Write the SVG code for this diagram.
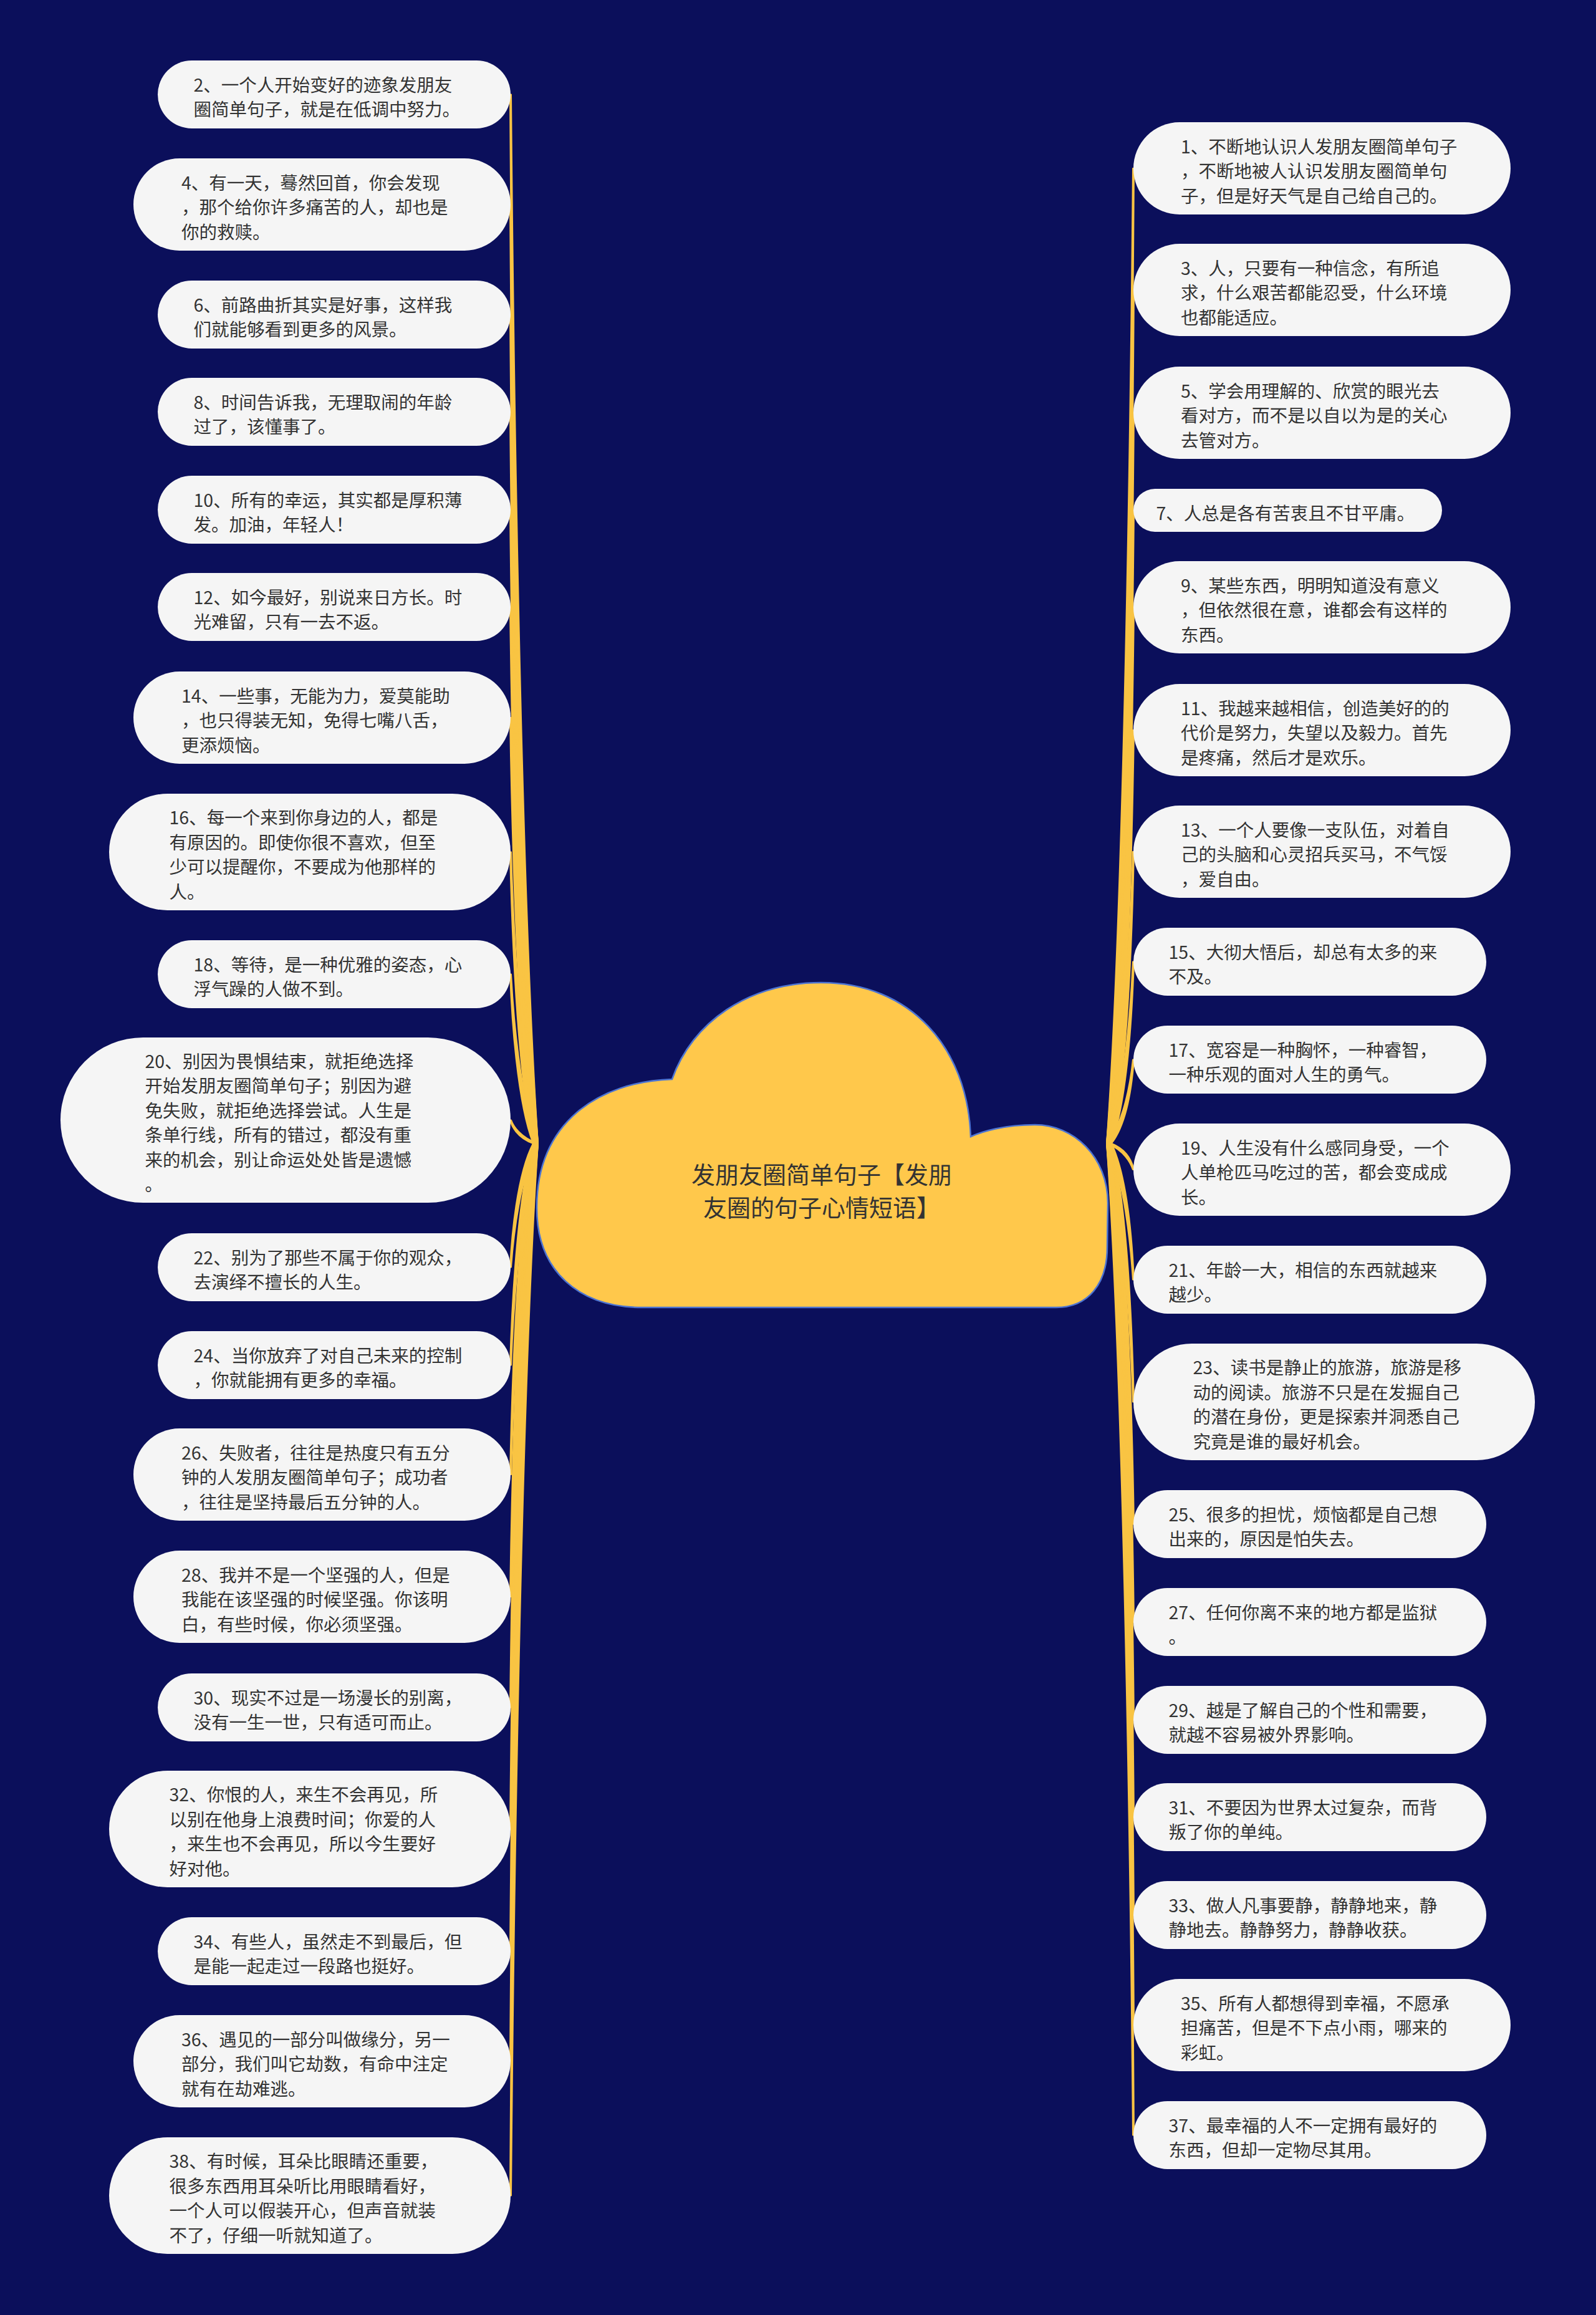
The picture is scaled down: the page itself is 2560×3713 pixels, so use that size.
<svg xmlns="http://www.w3.org/2000/svg" width="2560" height="3713" viewBox="0 0 2560 3713">
<style>
.bg{fill:#0b0f5b}
.c{fill:#f9c443;stroke:#f9c443;stroke-width:2;stroke-linejoin:round}
.n{fill:#f5f5f5}
.t{font-family:"Noto Sans CJK SC","Noto Sans",sans-serif;font-size:28.5px;fill:#333333;dominant-baseline:central}
.ct{font-family:"Noto Sans CJK SC","Noto Sans",sans-serif;font-size:38px;fill:#333333;dominant-baseline:central;text-anchor:middle}
</style>
<rect class="bg" x="0" y="0" width="2560" height="3713"/>
<g id="connectors">
<path class="c" d="M855 1834C829 1413.4 820.5 572.1 818 151.5L820 151.5C823.5 572.1 835 1413.4 863 1834Z"/>
<path class="c" d="M855 1834C829 1457.5 820.5 704.5 818 328L820 328C823.5 704.5 835 1457.5 863 1834Z"/>
<path class="c" d="M855 1834C829 1501.6 820.5 836.9 818 504.5L820 504.5C823.5 836.9 835 1501.6 863 1834Z"/>
<path class="c" d="M855 1834C829 1540.6 820.5 953.9 818 660.5L820 660.5C823.5 953.9 835 1540.6 863 1834Z"/>
<path class="c" d="M855 1834C829 1579.9 820.5 1071.6 818 817.5L820 817.5C823.5 1071.6 835 1579.9 863 1834Z"/>
<path class="c" d="M855 1834C829 1618.9 820.5 1188.6 818 973.5L820 973.5C823.5 1188.6 835 1618.9 863 1834Z"/>
<path class="c" d="M855 1834C829 1663.25 820.5 1321.75 818 1151L820 1151C823.5 1321.75 835 1663.25 863 1834Z"/>
<path class="c" d="M855 1834C829 1717.1 820.5 1483.4 818 1366.5L820 1366.5C823.5 1483.4 835 1717.1 863 1834Z"/>
<path class="c" d="M855 1834C829 1766.1 820.5 1630.4 818 1562.5L820 1562.5C823.5 1630.4 835 1766.1 863 1834Z"/>
<path class="c" d="M855 1834C829 1824.6 820.5 1805.9 818 1796.5L820 1796.5C823.5 1805.9 835 1824.6 863 1834Z"/>
<path class="c" d="M855 1834C829 1883.6 820.5 1982.9 818 2032.5L820 2032.5C823.5 1982.9 835 1883.6 863 1834Z"/>
<path class="c" d="M855 1834C829 1922.9 820.5 2100.6 818 2189.5L820 2189.5C823.5 2100.6 835 1922.9 863 1834Z"/>
<path class="c" d="M855 1834C829 1966.75 820.5 2232.25 818 2365L820 2365C823.5 2232.25 835 1966.75 863 1834Z"/>
<path class="c" d="M855 1834C829 2015.75 820.5 2379.25 818 2561L820 2561C823.5 2379.25 835 2015.75 863 1834Z"/>
<path class="c" d="M855 1834C829 2060.1 820.5 2512.4 818 2738.5L820 2738.5C823.5 2512.4 835 2060.1 863 1834Z"/>
<path class="c" d="M855 1834C829 2108.9 820.5 2658.6 818 2933.5L820 2933.5C823.5 2658.6 835 2108.9 863 1834Z"/>
<path class="c" d="M855 1834C829 2157.9 820.5 2805.6 818 3129.5L820 3129.5C823.5 2805.6 835 2157.9 863 1834Z"/>
<path class="c" d="M855 1834C829 2202 820.5 2938 818 3306L820 3306C823.5 2938 835 2202 863 1834Z"/>
<path class="c" d="M855 1834C829 2255.9 820.5 3099.6 818 3521.5L820 3521.5C823.5 3099.6 835 2255.9 863 1834Z"/>
<path class="c" d="M1775 1834C1803 1443 1813.5 661 1817 270L1819 270C1816.5 661 1809 1443 1783 1834Z"/>
<path class="c" d="M1775 1834C1803 1491.75 1813.5 807.25 1817 465L1819 465C1816.5 807.25 1809 1491.75 1783 1834Z"/>
<path class="c" d="M1775 1834C1803 1541 1813.5 955 1817 662L1819 662C1816.5 955 1809 1541 1783 1834Z"/>
<path class="c" d="M1775 1834C1803 1580.1 1813.5 1072.4 1817 818.5L1819 818.5C1816.5 1072.4 1809 1580.1 1783 1834Z"/>
<path class="c" d="M1775 1834C1803 1619 1813.5 1189 1817 974L1819 974C1816.5 1189 1809 1619 1783 1834Z"/>
<path class="c" d="M1775 1834C1803 1668.25 1813.5 1336.75 1817 1171L1819 1171C1816.5 1336.75 1809 1668.25 1783 1834Z"/>
<path class="c" d="M1775 1834C1803 1717 1813.5 1483 1817 1366L1819 1366C1816.5 1483 1809 1717 1783 1834Z"/>
<path class="c" d="M1775 1834C1803 1761.1 1813.5 1615.4 1817 1542.5L1819 1542.5C1816.5 1615.4 1809 1761.1 1783 1834Z"/>
<path class="c" d="M1775 1834C1803 1800.4 1813.5 1733.1 1817 1699.5L1819 1699.5C1816.5 1733.1 1809 1800.4 1783 1834Z"/>
<path class="c" d="M1775 1834C1803 1844.5 1813.5 1865.5 1817 1876L1819 1876C1816.5 1865.5 1809 1844.5 1783 1834Z"/>
<path class="c" d="M1775 1834C1803 1888.6 1813.5 1997.9 1817 2052.5L1819 2052.5C1816.5 1997.9 1809 1888.6 1783 1834Z"/>
<path class="c" d="M1775 1834C1803 1937.6 1813.5 2144.9 1817 2248.5L1819 2248.5C1816.5 2144.9 1809 1937.6 1783 1834Z"/>
<path class="c" d="M1775 1834C1803 1986.6 1813.5 2291.9 1817 2444.5L1819 2444.5C1816.5 2291.9 1809 1986.6 1783 1834Z"/>
<path class="c" d="M1775 1834C1803 2025.9 1813.5 2409.6 1817 2601.5L1819 2601.5C1816.5 2409.6 1809 2025.9 1783 1834Z"/>
<path class="c" d="M1775 1834C1803 2065.1 1813.5 2527.4 1817 2758.5L1819 2758.5C1816.5 2527.4 1809 2065.1 1783 1834Z"/>
<path class="c" d="M1775 1834C1803 2104.1 1813.5 2644.4 1817 2914.5L1819 2914.5C1816.5 2644.4 1809 2104.1 1783 1834Z"/>
<path class="c" d="M1775 1834C1803 2143.4 1813.5 2762.1 1817 3071.5L1819 3071.5C1816.5 2762.1 1809 2143.4 1783 1834Z"/>
<path class="c" d="M1775 1834C1803 2187.5 1813.5 2894.5 1817 3248L1819 3248C1816.5 2894.5 1809 2187.5 1783 1834Z"/>
<path class="c" d="M1775 1834C1803 2231.6 1813.5 3026.9 1817 3424.5L1819 3424.5C1816.5 3026.9 1809 2231.6 1783 1834Z"/>
</g>
<g id="root">
<path d="M1030 2097L1694 2097C1745 2097 1776 2060 1776 2000L1777 1930C1777 1855 1722 1804 1660 1804C1610 1804 1575 1815 1557 1823C1552 1680 1460 1576 1317 1576C1200 1576 1110 1640 1078 1731C960 1735 862 1800 861 1935C860 2040 930 2097 1030 2097Z" fill="#ffc84b" stroke="#4d74d2" stroke-width="2.5"/>
<text class="ct"><tspan x="1318" y="1881">发朋友圈简单句子【发朋</tspan><tspan x="1318" y="1934">友圈的句子心情短语】</tspan></text>
</g>
<g id="n2"><rect class="n" x="253" y="97" width="566" height="109" rx="54.5"/><text class="t"><tspan x="310.5" y="133.75">2、一个人开始变好的迹象发朋友</tspan><tspan x="310.5" y="173.25">圈简单句子，就是在低调中努力。</tspan></text></g>
<g id="n4"><rect class="n" x="214" y="254" width="605" height="148" rx="74"/><text class="t"><tspan x="291" y="290.5">4、有一天，蓦然回首，你会发现</tspan><tspan x="291" y="330">，那个给你许多痛苦的人，却也是</tspan><tspan x="291" y="369.5">你的救赎。</tspan></text></g>
<g id="n6"><rect class="n" x="253" y="450" width="566" height="109" rx="54.5"/><text class="t"><tspan x="310.5" y="486.75">6、前路曲折其实是好事，这样我</tspan><tspan x="310.5" y="526.25">们就能够看到更多的风景。</tspan></text></g>
<g id="n8"><rect class="n" x="253" y="606" width="566" height="109" rx="54.5"/><text class="t"><tspan x="310.5" y="642.75">8、时间告诉我，无理取闹的年龄</tspan><tspan x="310.5" y="682.25">过了，该懂事了。</tspan></text></g>
<g id="n10"><rect class="n" x="253" y="763" width="566" height="109" rx="54.5"/><text class="t"><tspan x="310.5" y="799.75">10、所有的幸运，其实都是厚积薄</tspan><tspan x="310.5" y="839.25">发。加油，年轻人！</tspan></text></g>
<g id="n12"><rect class="n" x="253" y="919" width="566" height="109" rx="54.5"/><text class="t"><tspan x="310.5" y="955.75">12、如今最好，别说来日方长。时</tspan><tspan x="310.5" y="995.25">光难留，只有一去不返。</tspan></text></g>
<g id="n14"><rect class="n" x="214" y="1077" width="605" height="148" rx="74"/><text class="t"><tspan x="291" y="1113.5">14、一些事，无能为力，爱莫能助</tspan><tspan x="291" y="1153">，也只得装无知，免得七嘴八舌，</tspan><tspan x="291" y="1192.5">更添烦恼。</tspan></text></g>
<g id="n16"><rect class="n" x="175" y="1273" width="644" height="187" rx="93.5"/><text class="t"><tspan x="271.5" y="1309.25">16、每一个来到你身边的人，都是</tspan><tspan x="271.5" y="1348.75">有原因的。即使你很不喜欢，但至</tspan><tspan x="271.5" y="1388.25">少可以提醒你，不要成为他那样的</tspan><tspan x="271.5" y="1427.75">人。</tspan></text></g>
<g id="n18"><rect class="n" x="253" y="1508" width="566" height="109" rx="54.5"/><text class="t"><tspan x="310.5" y="1544.75">18、等待，是一种优雅的姿态，心</tspan><tspan x="310.5" y="1584.25">浮气躁的人做不到。</tspan></text></g>
<g id="n20"><rect class="n" x="97" y="1664" width="722" height="265" rx="132.5"/><text class="t"><tspan x="232.5" y="1699.75">20、别因为畏惧结束，就拒绝选择</tspan><tspan x="232.5" y="1739.25">开始发朋友圈简单句子；别因为避</tspan><tspan x="232.5" y="1778.75">免失败，就拒绝选择尝试。人生是</tspan><tspan x="232.5" y="1818.25">条单行线，所有的错过，都没有重</tspan><tspan x="232.5" y="1857.75">来的机会，别让命运处处皆是遗憾</tspan><tspan x="232.5" y="1897.25">。</tspan></text></g>
<g id="n22"><rect class="n" x="253" y="1978" width="566" height="109" rx="54.5"/><text class="t"><tspan x="310.5" y="2014.75">22、别为了那些不属于你的观众，</tspan><tspan x="310.5" y="2054.25">去演绎不擅长的人生。</tspan></text></g>
<g id="n24"><rect class="n" x="253" y="2135" width="566" height="109" rx="54.5"/><text class="t"><tspan x="310.5" y="2171.75">24、当你放弃了对自己未来的控制</tspan><tspan x="310.5" y="2211.25">，你就能拥有更多的幸福。</tspan></text></g>
<g id="n26"><rect class="n" x="214" y="2291" width="605" height="148" rx="74"/><text class="t"><tspan x="291" y="2327.5">26、失败者，往往是热度只有五分</tspan><tspan x="291" y="2367">钟的人发朋友圈简单句子；成功者</tspan><tspan x="291" y="2406.5">，往往是坚持最后五分钟的人。</tspan></text></g>
<g id="n28"><rect class="n" x="214" y="2487" width="605" height="148" rx="74"/><text class="t"><tspan x="291" y="2523.5">28、我并不是一个坚强的人，但是</tspan><tspan x="291" y="2563">我能在该坚强的时候坚强。你该明</tspan><tspan x="291" y="2602.5">白，有些时候，你必须坚强。</tspan></text></g>
<g id="n30"><rect class="n" x="253" y="2684" width="566" height="109" rx="54.5"/><text class="t"><tspan x="310.5" y="2720.75">30、现实不过是一场漫长的别离，</tspan><tspan x="310.5" y="2760.25">没有一生一世，只有适可而止。</tspan></text></g>
<g id="n32"><rect class="n" x="175" y="2840" width="644" height="187" rx="93.5"/><text class="t"><tspan x="271.5" y="2876.25">32、你恨的人，来生不会再见，所</tspan><tspan x="271.5" y="2915.75">以别在他身上浪费时间；你爱的人</tspan><tspan x="271.5" y="2955.25">，来生也不会再见，所以今生要好</tspan><tspan x="271.5" y="2994.75">好对他。</tspan></text></g>
<g id="n34"><rect class="n" x="253" y="3075" width="566" height="109" rx="54.5"/><text class="t"><tspan x="310.5" y="3111.75">34、有些人，虽然走不到最后，但</tspan><tspan x="310.5" y="3151.25">是能一起走过一段路也挺好。</tspan></text></g>
<g id="n36"><rect class="n" x="214" y="3232" width="605" height="148" rx="74"/><text class="t"><tspan x="291" y="3268.5">36、遇见的一部分叫做缘分，另一</tspan><tspan x="291" y="3308">部分，我们叫它劫数，有命中注定</tspan><tspan x="291" y="3347.5">就有在劫难逃。</tspan></text></g>
<g id="n38"><rect class="n" x="175" y="3428" width="644" height="187" rx="93.5"/><text class="t"><tspan x="271.5" y="3464.25">38、有时候，耳朵比眼睛还重要，</tspan><tspan x="271.5" y="3503.75">很多东西用耳朵听比用眼睛看好，</tspan><tspan x="271.5" y="3543.25">一个人可以假装开心，但声音就装</tspan><tspan x="271.5" y="3582.75">不了，仔细一听就知道了。</tspan></text></g>
<g id="n1"><rect class="n" x="1818" y="196" width="605" height="148" rx="74"/><text class="t"><tspan x="1894" y="232.5">1、不断地认识人发朋友圈简单句子</tspan><tspan x="1894" y="272">，不断地被人认识发朋友圈简单句</tspan><tspan x="1894" y="311.5">子，但是好天气是自己给自己的。</tspan></text></g>
<g id="n3"><rect class="n" x="1818" y="391" width="605" height="148" rx="74"/><text class="t"><tspan x="1894" y="427.5">3、人，只要有一种信念，有所追</tspan><tspan x="1894" y="467">求，什么艰苦都能忍受，什么环境</tspan><tspan x="1894" y="506.5">也都能适应。</tspan></text></g>
<g id="n5"><rect class="n" x="1818" y="588" width="605" height="148" rx="74"/><text class="t"><tspan x="1894" y="624.5">5、学会用理解的、欣赏的眼光去</tspan><tspan x="1894" y="664">看对方，而不是以自以为是的关心</tspan><tspan x="1894" y="703.5">去管对方。</tspan></text></g>
<g id="n7"><rect class="n" x="1818" y="784" width="495" height="69" rx="34.5"/><text class="t"><tspan x="1854.5" y="820.5">7、人总是各有苦衷且不甘平庸。</tspan></text></g>
<g id="n9"><rect class="n" x="1818" y="900" width="605" height="148" rx="74"/><text class="t"><tspan x="1894" y="936.5">9、某些东西，明明知道没有意义</tspan><tspan x="1894" y="976">，但依然很在意，谁都会有这样的</tspan><tspan x="1894" y="1015.5">东西。</tspan></text></g>
<g id="n11"><rect class="n" x="1818" y="1097" width="605" height="148" rx="74"/><text class="t"><tspan x="1894" y="1133.5">11、我越来越相信，创造美好的的</tspan><tspan x="1894" y="1173">代价是努力，失望以及毅力。首先</tspan><tspan x="1894" y="1212.5">是疼痛，然后才是欢乐。</tspan></text></g>
<g id="n13"><rect class="n" x="1818" y="1292" width="605" height="148" rx="74"/><text class="t"><tspan x="1894" y="1328.5">13、一个人要像一支队伍，对着自</tspan><tspan x="1894" y="1368">己的头脑和心灵招兵买马，不气馁</tspan><tspan x="1894" y="1407.5">，爱自由。</tspan></text></g>
<g id="n15"><rect class="n" x="1818" y="1488" width="566" height="109" rx="54.5"/><text class="t"><tspan x="1874.5" y="1524.75">15、大彻大悟后，却总有太多的来</tspan><tspan x="1874.5" y="1564.25">不及。</tspan></text></g>
<g id="n17"><rect class="n" x="1818" y="1645" width="566" height="109" rx="54.5"/><text class="t"><tspan x="1874.5" y="1681.75">17、宽容是一种胸怀，一种睿智，</tspan><tspan x="1874.5" y="1721.25">一种乐观的面对人生的勇气。</tspan></text></g>
<g id="n19"><rect class="n" x="1818" y="1802" width="605" height="148" rx="74"/><text class="t"><tspan x="1894" y="1838.5">19、人生没有什么感同身受，一个</tspan><tspan x="1894" y="1878">人单枪匹马吃过的苦，都会变成成</tspan><tspan x="1894" y="1917.5">长。</tspan></text></g>
<g id="n21"><rect class="n" x="1818" y="1998" width="566" height="109" rx="54.5"/><text class="t"><tspan x="1874.5" y="2034.75">21、年龄一大，相信的东西就越来</tspan><tspan x="1874.5" y="2074.25">越少。</tspan></text></g>
<g id="n23"><rect class="n" x="1818" y="2155" width="644" height="187" rx="93.5"/><text class="t"><tspan x="1913.5" y="2191.25">23、读书是静止的旅游，旅游是移</tspan><tspan x="1913.5" y="2230.75">动的阅读。旅游不只是在发掘自己</tspan><tspan x="1913.5" y="2270.25">的潜在身份，更是探索并洞悉自己</tspan><tspan x="1913.5" y="2309.75">究竟是谁的最好机会。</tspan></text></g>
<g id="n25"><rect class="n" x="1818" y="2390" width="566" height="109" rx="54.5"/><text class="t"><tspan x="1874.5" y="2426.75">25、很多的担忧，烦恼都是自己想</tspan><tspan x="1874.5" y="2466.25">出来的，原因是怕失去。</tspan></text></g>
<g id="n27"><rect class="n" x="1818" y="2547" width="566" height="109" rx="54.5"/><text class="t"><tspan x="1874.5" y="2583.75">27、任何你离不来的地方都是监狱</tspan><tspan x="1874.5" y="2623.25">。</tspan></text></g>
<g id="n29"><rect class="n" x="1818" y="2704" width="566" height="109" rx="54.5"/><text class="t"><tspan x="1874.5" y="2740.75">29、越是了解自己的个性和需要，</tspan><tspan x="1874.5" y="2780.25">就越不容易被外界影响。</tspan></text></g>
<g id="n31"><rect class="n" x="1818" y="2860" width="566" height="109" rx="54.5"/><text class="t"><tspan x="1874.5" y="2896.75">31、不要因为世界太过复杂，而背</tspan><tspan x="1874.5" y="2936.25">叛了你的单纯。</tspan></text></g>
<g id="n33"><rect class="n" x="1818" y="3017" width="566" height="109" rx="54.5"/><text class="t"><tspan x="1874.5" y="3053.75">33、做人凡事要静，静静地来，静</tspan><tspan x="1874.5" y="3093.25">静地去。静静努力，静静收获。</tspan></text></g>
<g id="n35"><rect class="n" x="1818" y="3174" width="605" height="148" rx="74"/><text class="t"><tspan x="1894" y="3210.5">35、所有人都想得到幸福，不愿承</tspan><tspan x="1894" y="3250">担痛苦，但是不下点小雨，哪来的</tspan><tspan x="1894" y="3289.5">彩虹。</tspan></text></g>
<g id="n37"><rect class="n" x="1818" y="3370" width="566" height="109" rx="54.5"/><text class="t"><tspan x="1874.5" y="3406.75">37、最幸福的人不一定拥有最好的</tspan><tspan x="1874.5" y="3446.25">东西，但却一定物尽其用。</tspan></text></g>
</svg>
